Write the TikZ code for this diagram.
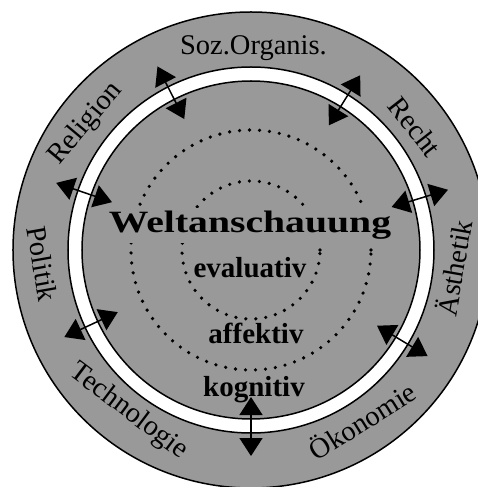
\documentclass[tikz,border=0pt]{standalone}
\usepackage{fontspec}
\setmainfont{Liberation Serif}
\usetikzlibrary{arrows.meta}
\definecolor{ringgray}{gray}{0.6}

\begin{document}
\begin{tikzpicture}[x=1pt,y=1pt,
    field/.style={font=\fontsize{28.5}{30}\selectfont,inner sep=0pt},
    core/.style={font=\bfseries\fontsize{29}{30}\selectfont,inner sep=0pt,anchor=base},
    biarrow/.style={{Triangle[length=18pt,width=23pt]}-{Triangle[length=18pt,width=23pt]},line width=1.5pt},
    dots/.style={line width=3.6pt,line cap=round,dash pattern=on 0pt off 10pt}]
    \useasboundingbox (-251,-237) rectangle (227,250);
    \clip (-251,-237) rectangle (227,250);
    % rings
    \draw[line width=1.5pt,fill=ringgray] (0,0) circle (238);
    \draw[line width=1.5pt,fill=white] (0,0) circle (183);
    \draw[line width=1.5pt,fill=ringgray] (0,0) circle (169);
    \draw[dots] (0,0) circle (120);
    \draw[dots] (0,0) circle (69);
    % outer fields
    \node[field] (soz) at (89.3:202) {Soz.Organis.};
    \node[field,rotate=50] (religion) at (142.6:208) {Religion};
    \node[field,rotate=-80] (politik) at (183.8:209) {Politik};
    \node[field,rotate=-37] (technologie) at (232.8:203) {Technologie};
    \node[field,rotate=32] (oekonomie) at (303:203) {Ökonomie};
    \node[field,rotate=80] (aesthetik) at (355:203) {Ästhetik};
    \node[field,rotate=-52] (recht) at (36.9:205) {Recht};
    % core
    \node[core,fill=ringgray,inner sep=3pt,font=\bfseries\fontsize{31}{32}\selectfont,xscale=1.28] (welt) at (-1,17) {Weltanschauung};
    \node[core] (evaluativ) at (-1,-28) {evaluativ};
    \node[core] (affektiv) at (5,-93) {affektiv};
    \node[core] (kognitiv) at (3,-146) {kognitiv};
    % links across the band
    \foreach \a/\n in {117/a,58/b,161/c,17/d,205/e,329/f,270/g} {
        \coordinate (in\n) at (\a:147);
        \coordinate (out\n) at (\a:206);
        \path[biarrow] (in\n) edge (out\n);
    }
\end{tikzpicture}
\end{document}
